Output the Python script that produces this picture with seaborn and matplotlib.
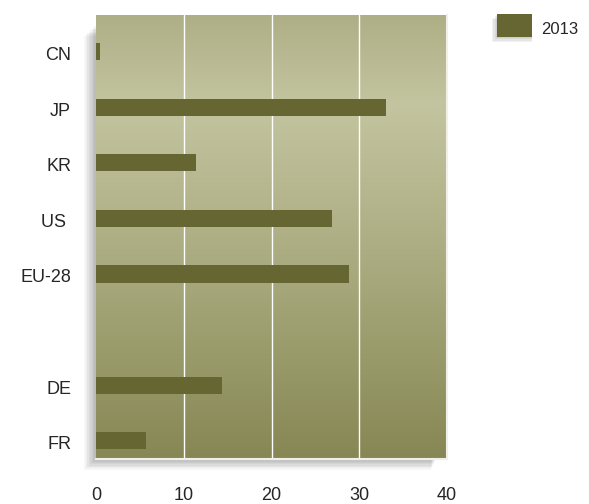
import numpy as np
import pandas as pd
import seaborn as sns
import matplotlib.pyplot as plt
from matplotlib.patches import Rectangle
from matplotlib.transforms import ScaledTranslation

# datos
paises = ["CN", "JP", "KR", "US ", "EU-28", " ", "DE", "FR"]
valores = [0.45, 33.1, 11.4, 26.9, 28.8, np.nan, 14.3, 5.7]
serie = "2013"
ticks_x = [0, 10, 20, 30, 40]

df = pd.DataFrame({"pais": paises, "valor": valores})

sns.set_style("white")
plt.rcParams['font.family'] = ['Liberation Sans', 'DejaVu Sans']

fig = plt.figure(figsize=(5.89, 5.04), dpi=100)
ax = fig.add_axes([0.163, 0.089, 0.596, 0.881])
ax.set_zorder(5)

# sombra del area (izquierda y abajo, detras de los ejes)
for i in range(8):
    d = (8 - i) * 1.5  # px
    fig.patches.append(Rectangle(((96 - d) / 589, (45 - d * 0.9) / 504),
                                 (350 - 10 + d * 0.6) / 589, (440 - 6) / 504,
                                 transform=fig.transFigure, color="black",
                                 alpha=0.035, zorder=0, lw=0))

# fondo degradado
grad = np.array([
    [174, 175, 134], [195, 197, 160], [178, 179, 138], [155, 156, 108], [135, 135, 85]
]) / 255.0
pos = np.array([0, 0.2, 0.45, 0.75, 1.0])
yy = np.linspace(0, 1, 200)
img = np.stack([np.interp(yy, pos, grad[:, c]) for c in range(3)], axis=1)
img = np.repeat(img[:, None, :], 2, axis=1)
ax.imshow(img, extent=[0, 40, 7.33, -0.656], aspect="auto", zorder=0)

sns.barplot(data=df, x="valor", y="pais", order=paises, color="#666633",
            width=0.31, saturation=1, ax=ax, zorder=3, linewidth=0)

ax.set_xlim(0, 40)
ax.set_ylim(7.33, -0.656)
ax.set_xticks(ticks_x)
for x in ticks_x[1:-1]:
    ax.axvline(x, color="white", lw=1, zorder=2)
ax.set_xlabel("")
ax.set_ylabel("")
for s in ["top", "left"]:
    ax.spines[s].set_visible(False)
for s in ["right", "bottom"]:
    ax.spines[s].set_color("#f0f0e8")
    ax.spines[s].set_linewidth(1.5)
ax.tick_params(axis="x", length=0, pad=20, labelsize=13)
ax.tick_params(axis="y", length=0, pad=18, labelsize=13)
off = ScaledTranslation(0, -0.02, fig.dpi_scale_trans)
for t in ax.get_yticklabels():
    t.set_transform(t.get_transform() + off)

# leyenda
for i in range(4):
    d = (4 - i) * 1.2
    fig.patches.append(Rectangle(((497 - d) / 589, (467 - d) / 504), (35 + d) / 589, 23 / 504,
                                 transform=fig.transFigure, color="black", alpha=0.05, lw=0))
fig.patches.append(Rectangle((497 / 589, 1 - 37 / 504), 35 / 589, 23 / 504,
                             transform=fig.transFigure, color="#666633", lw=0))
fig.text(541 / 589, 1 - 30 / 504, serie, fontsize=12, va="center", ha="left")

fig.savefig("out.png", dpi=100)
